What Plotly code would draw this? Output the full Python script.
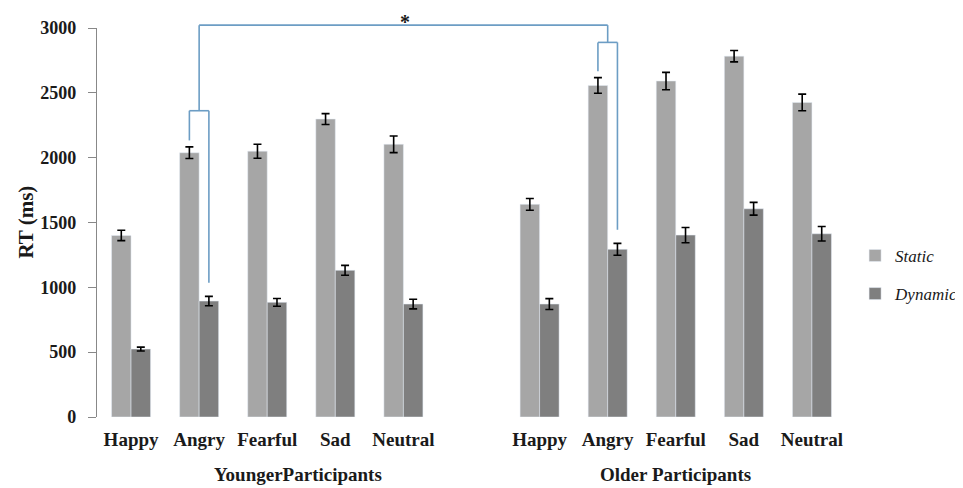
import plotly.graph_objects as go

# ---- data ----
emotions = ["Happy", "Angry", "Fearful", "Sad", "Neutral"]
groups = ["YoungerParticipants", "Older Participants"]
positions = [0, 1, 2, 3, 4, 6, 7, 8, 9, 10]
tick_labels = emotions + emotions

static_vals = [1400, 2038, 2050, 2298, 2103, 1640, 2557, 2591, 2783, 2426]
static_err = [40, 45, 54, 42, 64, 45, 60, 67, 44, 64]
dynamic_vals = [524, 894, 884, 1131, 871, 871, 1293, 1403, 1606, 1413]
dynamic_err = [15, 36, 30, 38, 37, 42, 46, 59, 49, 56]

STATIC_COLOR = "#a6a6a6"
DYNAMIC_COLOR = "#7f7f7f"
BRACKET_COLOR = "#6c9dc4"
FONT = "Liberation Serif"
TXT = "#1a1a1a"

X_MIN, X_MAX = -0.5, 10.5
Y_MIN, Y_MAX = 0, 3000
BARGAP = 0.427

fig = go.Figure()
fig.add_trace(go.Bar(
    x=positions, y=static_vals, name="<i>Static</i>", marker_color=STATIC_COLOR,
    error_y=dict(type="data", array=static_err, color="black", thickness=1.6, width=4),
    legendgroup="s",
))
fig.add_trace(go.Bar(
    x=positions, y=dynamic_vals, name="<i>Dynamic</i>", marker_color=DYNAMIC_COLOR,
    error_y=dict(type="data", array=dynamic_err, color="black", thickness=1.6, width=4),
    legendgroup="d",
))

# ---- significance brackets (paper coords derived from data) ----
bar_w = (1 - BARGAP) / 2


def px(xv):
    return (xv - X_MIN) / (X_MAX - X_MIN)


def py(v):
    return (v - Y_MIN) / (Y_MAX - Y_MIN)


def seg(x0, y0, x1, y1):
    fig.add_shape(type="line", xref="paper", yref="paper",
                  x0=px(x0), y0=py(y0), x1=px(x1), y1=py(y1),
                  line=dict(color=BRACKET_COLOR, width=1.6))


GAP_S, GAP_D = 50, 105
LEVEL_TOP = 3022
LEVELS = {1: 2362, 7: 2889}
for idx in (1, 6):  # index in arrays: younger angry, older angry
    p = positions[idx]
    xs, xd = p - bar_w / 2, p + bar_w / 2
    lvl = LEVELS[p]
    seg(xs, static_vals[idx] + static_err[idx] + GAP_S, xs, lvl)
    seg(xd, dynamic_vals[idx] + dynamic_err[idx] + GAP_D, xd, lvl)
    seg(xs, lvl, xd, lvl)
    seg(p, lvl, p, LEVEL_TOP)
seg(positions[1], LEVEL_TOP, positions[6], LEVEL_TOP)

fig.add_annotation(x=px(4.02), y=1.049, xref="paper", yref="paper", text="<b>*</b>",
                   xanchor="center", yanchor="top",
                   showarrow=False, font=dict(family=FONT, size=20, color=TXT))

# group labels
for gx, gtext in zip((2.45, 8.0), groups):
    fig.add_annotation(x=px(gx), y=-0.149, xref="paper", yref="paper", text=gtext,
                       xanchor="center", yanchor="middle", showarrow=False,
                       font=dict(family=FONT, size=19, color=TXT, weight="bold"))

# y title
fig.add_annotation(x=-0.096, y=0.5, xref="paper", yref="paper", text="RT (ms)", textangle=-90,
                   xanchor="center", yanchor="middle", showarrow=False,
                   font=dict(family=FONT, size=21, color=TXT, weight="bold"))

fig.update_layout(
    width=955, height=480,
    margin=dict(l=89, r=117, t=20, b=71, autoexpand=False),
    paper_bgcolor="white", plot_bgcolor="white",
    barmode="group", bargap=BARGAP, bargroupgap=0,
    showlegend=True,
    legend=dict(xref="container", yref="container", x=0.887, y=0.521,
                xanchor="left", yanchor="top",
                font=dict(family=FONT, size=17, color=TXT),
                traceorder="grouped", tracegroupgap=13, itemwidth=30,
                bgcolor="rgba(0,0,0,0)"),
    xaxis=dict(range=[X_MIN, X_MAX], tickvals=positions, ticktext=tick_labels,
               showline=False, ticks="", showgrid=False, zeroline=False, automargin=False,
               ticklabelstandoff=9,
               tickfont=dict(family=FONT, size=19, color=TXT, weight="bold")),
    yaxis=dict(range=[Y_MIN, Y_MAX], dtick=500, showline=True, linecolor="#888888", linewidth=1.3,
               ticks="outside", ticklen=8, tickcolor="#888888", tickwidth=1.3,
               showgrid=False, zeroline=False, automargin=False, ticklabelstandoff=8,
               tickfont=dict(family=FONT, size=18, color=TXT, weight="bold")),
)

fig.write_html("out.html")
